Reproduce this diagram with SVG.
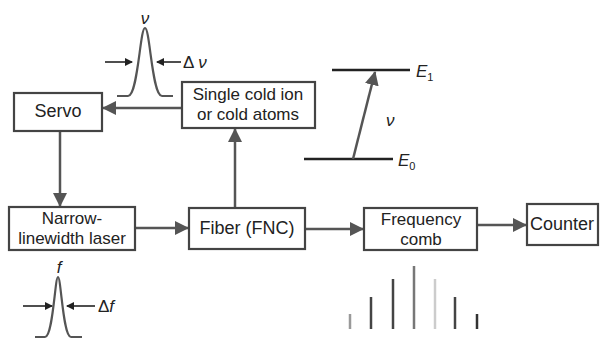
<svg xmlns="http://www.w3.org/2000/svg" width="600" height="340" viewBox="0 0 600 340">
<style>
.box{fill:#fff;stroke:#444;stroke-width:2.2}
.t{font-family:"Liberation Sans",Arial,sans-serif;font-size:18px;fill:#222;text-anchor:middle}
.t2{font-family:"Liberation Sans",Arial,sans-serif;font-size:17px;fill:#222;text-anchor:middle}
.it{font-family:"Liberation Sans",Arial,sans-serif;font-size:17px;font-style:italic;fill:#222}
.c{stroke:#555;stroke-width:2.5;fill:none}
.k{stroke:#222;stroke-width:1.6;fill:none}
.pk{stroke:#555;stroke-width:2.2;fill:none}
.lv{stroke:#222;stroke-width:2.5}
</style>
<defs>
<marker id="ahs" markerWidth="8" markerHeight="8" refX="7" refY="4" orient="auto" markerUnits="userSpaceOnUse" viewBox="0 0 8 8">
<path d="M0,0 L8,4 L0,8 z" fill="#222"/>
</marker>
<marker id="big" markerWidth="14" markerHeight="14" refX="13" refY="7" orient="auto" markerUnits="userSpaceOnUse" viewBox="0 0 14 14">
<path d="M0,0 L14,7 L0,14 z" fill="#555"/>
</marker>
</defs>
<g id="connectors">
<line class="c" x1="182" y1="108" x2="103" y2="108" marker-end="url(#big)"/>
<line class="c" x1="60" y1="131" x2="60" y2="206" marker-end="url(#big)"/>
<line class="c" x1="135" y1="228" x2="188" y2="228" marker-end="url(#big)"/>
<line class="c" x1="235" y1="207" x2="235" y2="129" marker-end="url(#big)"/>
<line class="c" x1="305" y1="229" x2="363" y2="229" marker-end="url(#big)"/>
<line class="c" x1="477" y1="225" x2="526" y2="225" marker-end="url(#big)"/>
</g>
<g id="servo"><rect class="box" x="14" y="93" width="88" height="38"/><text class="t" x="58" y="117">Servo</text></g>
<g id="ion"><rect class="box" x="182" y="82" width="133" height="46"/><text class="t2" x="248" y="100">Single cold ion</text><text class="t2" x="248" y="120">or cold atoms</text></g>
<g id="laser"><rect class="box" x="9" y="207" width="126" height="43"/><text class="t2" x="72" y="224">Narrow-</text><text class="t2" x="72" y="244">linewidth laser</text></g>
<g id="fiber"><rect class="box" x="189" y="208" width="116" height="41"/><text class="t" x="247" y="234">Fiber (FNC)</text></g>
<g id="comb"><rect class="box" x="364" y="208" width="113" height="42"/><text class="t2" x="421" y="225">Frequency</text><text class="t2" x="421" y="245">comb</text></g>
<g id="counter"><rect class="box" x="527" y="204" width="71" height="41"/><text class="t" x="562" y="230">Counter</text></g>
<g id="lineshape-nu">
<path class="pk" d="M117,96 L128,96 C138,96 140,28 145,28 C150,28 152,96 162,96 L173,96"/>
<text class="it" x="145" y="24" text-anchor="middle">ν</text>
<line class="k" x1="105" y1="62" x2="132" y2="62" marker-end="url(#ahs)"/>
<line class="k" x1="181" y1="62" x2="157" y2="62" marker-end="url(#ahs)"/>
<text x="183" y="68" style="font-family:'Liberation Sans',Arial,sans-serif;font-size:17px;fill:#222">Δ <tspan font-style="italic">ν</tspan></text>
</g>
<g id="lineshape-f">
<path class="pk" d="M35,337 L45,337 C53,337 55,277 58,277 C61,277 63,337 71,337 L82,337"/>
<text class="it" x="59" y="273" text-anchor="middle">f</text>
<line class="k" x1="23" y1="306" x2="52" y2="306" marker-end="url(#ahs)"/>
<line class="k" x1="95" y1="306" x2="67" y2="306" marker-end="url(#ahs)"/>
<text x="98" y="312" style="font-family:'Liberation Sans',Arial,sans-serif;font-size:17px;fill:#222">Δ<tspan font-style="italic">f</tspan></text>
</g>
<g id="levels">
<line class="lv" x1="332" y1="70" x2="410" y2="70"/>
<line class="lv" x1="304" y1="159" x2="393" y2="159"/>
<line x1="353" y1="159" x2="375" y2="72" stroke="#555" stroke-width="2.5" marker-end="url(#big)"/>
<text class="it" x="416" y="77">E<tspan font-size="11" font-style="normal" dy="4">1</tspan></text>
<text class="it" x="398" y="166">E<tspan font-size="11" font-style="normal" dy="4">0</tspan></text>
<text class="it" x="386" y="126">ν</text>
</g>
<g id="comb-spectrum">
<line x1="350" y1="329" x2="350" y2="314" stroke="#999" stroke-width="2.5"/>
<line x1="371" y1="329" x2="371" y2="297" stroke="#444" stroke-width="2.5"/>
<line x1="393" y1="329" x2="393" y2="279" stroke="#444" stroke-width="2.5"/>
<line x1="414" y1="329" x2="414" y2="266" stroke="#777" stroke-width="2.5"/>
<line x1="435" y1="329" x2="435" y2="279" stroke="#ccc" stroke-width="2.5"/>
<line x1="455" y1="329" x2="455" y2="297" stroke="#444" stroke-width="2.5"/>
<line x1="477" y1="329" x2="477" y2="314" stroke="#333" stroke-width="2.5"/>
</g>
</svg>
